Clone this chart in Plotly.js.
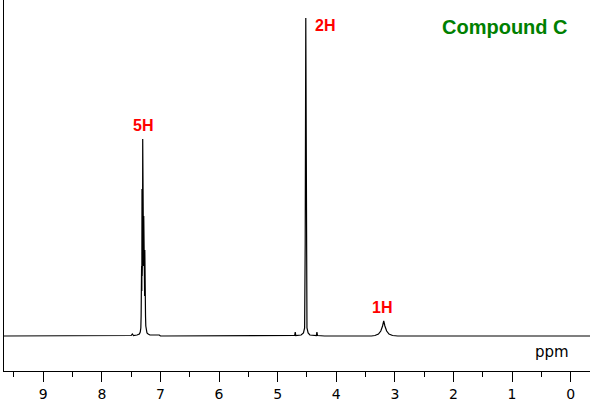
<!DOCTYPE html>
<html>
<head>
<meta charset="utf-8">
<script src="https://cdn.plot.ly/plotly-3.0.1.min.js"></script>
<style>html,body{margin:0;padding:0;background:#fff;}#chart{width:594px;height:405px;}</style>
</head>
<body>
<div id="chart"></div>
<script>
// Chemical shift (ppm) and relative intensity
var shiftPpm = [
  9.70, 7.60, 7.50, 7.48, 7.46, 7.40, 7.36, 7.345, 7.335, 7.330, 7.325, 7.322, 7.318, 7.315, 7.312, 7.309, 7.306, 7.303, 7.300,
  7.297, 7.294, 7.291, 7.288, 7.285, 7.282, 7.279, 7.276, 7.273, 7.270, 7.267, 7.264, 7.260, 7.255, 7.250, 7.240, 7.230,
  7.21, 7.18, 7.10, 7.02, 7.00,
  4.80, 4.71, 4.70, 4.69, 4.60, 4.56, 4.54, 4.53, 4.52, 4.51, 4.50, 4.48, 4.45, 4.34, 4.33, 4.32, 4.20,
  3.40, 3.34, 3.28, 3.24, 3.21, 3.19, 3.17, 3.14, 3.10, 3.04, 2.95, -0.40
];
var intensity = [
  0, 0, 0.5, 2, 0.5, 1, 2, 4, 8, 20, 40, 70, 45, 147, 60, 120, 80, 197, 100,
  175, 90, 150, 70, 120, 60, 100, 45, 80, 40, 86, 30, 50, 20, 10, 5, 3,
  2, 1, 1, 1, 0,
  0, 0.5, 4, 0.5, 1, 3, 8, 92, 318, 92, 8, 3, 1, 0.5, 4, 0.5, 0,
  0, 0.5, 2, 5, 10, 15, 10, 5, 2, 0.5, 0, 0
];

// Peak integration labels
var peakLabels = ["5H", "2H", "1H"];
var peakLabelPpm = [7.30, 4.40, 3.22];
var peakLabelY = [211, 311, 29];
var peakLabelAnchor = ["center", "left", "center"];

var tickValues = [0, 1, 2, 3, 4, 5, 6, 7, 8, 9];
var tickLabels = ["0", "1", "2", "3", "4", "5", "6", "7", "8", "9"];

var trace = {
  x: shiftPpm,
  y: intensity,
  type: "scatter",
  mode: "lines",
  line: {color: "#000000", width: 1.2},
  hoverinfo: "skip"
};

var annotations = peakLabels.map(function (t, i) {
  return {
    x: peakLabelPpm[i], y: peakLabelY[i], xref: "x", yref: "y",
    text: "<b>" + t + "</b>", showarrow: false,
    xanchor: peakLabelAnchor[i], yanchor: "middle",
    font: {family: "Liberation Sans, Arial, sans-serif", size: 16, color: "#ff0000"}
  };
});
annotations.push({
  x: 0.855, y: 309, xref: "paper", yref: "y",
  text: "<b>Compound C</b>", showarrow: false, xanchor: "center", yanchor: "middle",
  font: {family: "Liberation Sans, Arial, sans-serif", size: 20, color: "#008000"}
});
annotations.push({
  x: 0.32, y: -16, xref: "x", yref: "y",
  text: "ppm", showarrow: false, xanchor: "center", yanchor: "middle",
  font: {family: "DejaVu Sans, sans-serif", size: 15, color: "#000000"}
});

var layout = {
  width: 594, height: 405,
  margin: {l: 4, r: 4, t: 0, b: 34, pad: 0},
  paper_bgcolor: "#ffffff", plot_bgcolor: "#ffffff",
  showlegend: false,
  xaxis: {
    range: [9.67, -0.33],
    tickvals: tickValues, ticktext: tickLabels,
    ticks: "outside", ticklen: 10, tickwidth: 1, tickcolor: "#000000",
    minor: {dtick: 0.5, tick0: 0, ticks: "outside", ticklen: 5, tickwidth: 1, tickcolor: "#000000", showgrid: false},
    showline: true, linecolor: "#000000", linewidth: 1,
    showgrid: false, zeroline: false,
    tickfont: {family: "DejaVu Sans, sans-serif", size: 14, color: "#000000"},
    fixedrange: true
  },
  yaxis: {
    range: [-35, 336],
    showline: true, linecolor: "#000000", linewidth: 1,
    showticklabels: false, ticks: "", showgrid: false, zeroline: false,
    fixedrange: true
  },
  annotations: annotations
};

Plotly.newPlot("chart", [trace], layout, {displayModeBar: false, staticPlot: true});
</script>
</body>
</html>
